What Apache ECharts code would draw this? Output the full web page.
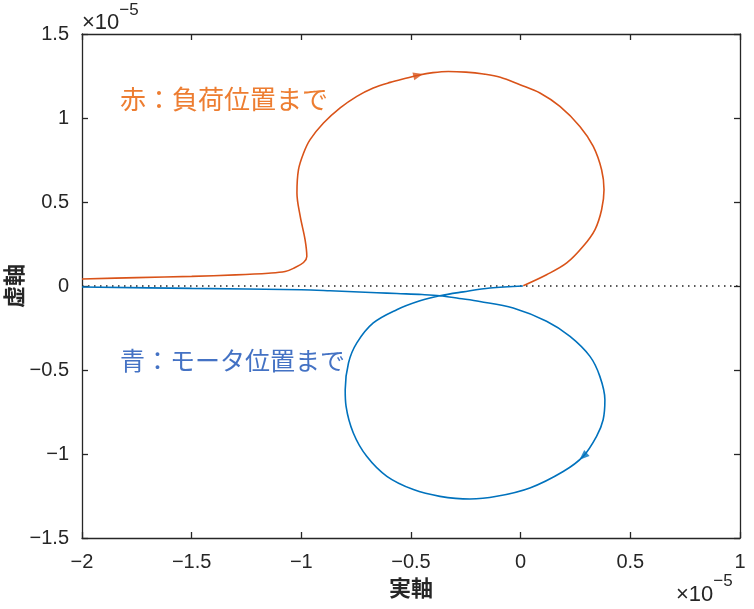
<!DOCTYPE html>
<html>
<head>
<meta charset="utf-8">
<title>ナイキスト線図</title>
<script src="https://cdn.jsdelivr.net/npm/echarts@6/dist/echarts.min.js"></script>
<style>
  html, body { margin: 0; padding: 0; background: #fff; }
  #main { width: 754px; height: 609px; }
</style>
</head>
<body>
<div id="main"></div>
<script>
// values are in units of 1e-5 (the axes show ×10^-5)
var xTicks = [-2, -1.5, -1, -0.5, 0, 0.5, 1];
var yTicks = [-1.5, -1, -0.5, 0, 0.5, 1, 1.5];

// 負荷位置まで (red)
var loadCurve = [
  [-2.0, 0.042], [-1.75, 0.05], [-1.5, 0.057], [-1.3, 0.066], [-1.15, 0.076],
  [-1.074, 0.086], [-1.036, 0.105], [-0.99, 0.14], [-0.975, 0.176], [-0.983, 0.276],
  [-1.005, 0.414], [-1.02, 0.553], [-1.013, 0.692], [-0.99, 0.79], [-0.96, 0.871],
  [-0.899, 0.97], [-0.823, 1.06], [-0.747, 1.129], [-0.672, 1.179], [-0.595, 1.212],
  [-0.519, 1.238], [-0.467, 1.255], [-0.4, 1.27], [-0.33, 1.277], [-0.25, 1.273],
  [-0.17, 1.262], [-0.093, 1.243], [-0.003, 1.198], [0.088, 1.149], [0.179, 1.069],
  [0.27, 0.95], [0.331, 0.831], [0.369, 0.692], [0.38, 0.573], [0.369, 0.454],
  [0.339, 0.336], [0.285, 0.236], [0.21, 0.137], [0.118, 0.067], [0.012, 0.002]
];

// モータ位置まで (blue)
var motorCurve = [
  [-2.0, -0.006], [-1.5, -0.014], [-1.0, -0.022], [-0.869, -0.028], [-0.656, -0.04],
  [-0.565, -0.045], [-0.45, -0.051], [-0.368, -0.058], [-0.28, -0.074], [-0.186, -0.092],
  [-0.034, -0.131], [0.118, -0.21], [0.225, -0.3], [0.316, -0.419], [0.361, -0.538],
  [0.384, -0.677], [0.376, -0.796], [0.346, -0.895], [0.285, -1.014], [0.194, -1.104],
  [0.042, -1.202], [-0.109, -1.252], [-0.231, -1.268], [-0.368, -1.252], [-0.489, -1.212],
  [-0.61, -1.133], [-0.702, -1.014], [-0.763, -0.875], [-0.796, -0.717], [-0.80, -0.617],
  [-0.785, -0.458], [-0.747, -0.339], [-0.672, -0.22], [-0.565, -0.141], [-0.459, -0.088],
  [-0.368, -0.058], [-0.262, -0.035], [-0.14, -0.012], [0.01, 0.0]
];

// direction arrows: [x, y, rotate(deg)]
var loadArrow = [-0.467, 1.255, -77];
var motorArrow = [0.285, -1.014, 132];

var zeroLine = [[-2, 0], [1, 0]];

var red = '#D95319';
var blue = '#0072BD';
var axisColor = '#262626';

function fmt(v) {
    return String(v).replace('-', '\u2212');  // MATLAB風のマイナス記号
}

function axisX(pos, showLabel) {
    return {
        type: 'value', position: pos,
        min: xTicks[0], max: xTicks[xTicks.length - 1], interval: 0.5,
        axisLine: { show: true, onZero: false, lineStyle: { color: axisColor, width: 1.3 } },
        axisTick: { show: true, inside: true, length: 6, lineStyle: { color: axisColor, width: 1.3 } },
        axisLabel: { show: showLabel, formatter: fmt, color: axisColor, fontSize: 20,
                     fontFamily: 'Liberation Sans', margin: 14 },
        splitLine: { show: false }
    };
}
function axisY(pos, showLabel) {
    return {
        type: 'value', position: pos,
        min: yTicks[0], max: yTicks[yTicks.length - 1], interval: 0.5,
        axisLine: { show: true, onZero: false, lineStyle: { color: axisColor, width: 1.3 } },
        axisTick: { show: true, inside: true, length: 6, lineStyle: { color: axisColor, width: 1.3 } },
        axisLabel: { show: showLabel, formatter: fmt, color: axisColor, fontSize: 20,
                     fontFamily: 'Liberation Sans', margin: 13 },
        splitLine: { show: false }
    };
}

var xMain = axisX('bottom', true);
xMain.name = '実軸';
xMain.nameLocation = 'middle';
xMain.nameGap = 37;
xMain.nameTextStyle = { color: axisColor, fontSize: 22, fontWeight: 'bold', fontFamily: 'Noto Sans CJK JP' };

var yMain = axisY('left', true);
yMain.name = '虚軸';
yMain.nameLocation = 'middle';
yMain.nameGap = 57;
yMain.nameRotate = 90;
yMain.nameMoveOverlap = false;
yMain.nameTextStyle = { color: axisColor, fontSize: 22, fontWeight: 'bold', fontFamily: 'Noto Sans CJK JP' };

var myChart = echarts.init(document.getElementById('main'));

myChart.setOption({
    animation: false,
    backgroundColor: '#fff',
    grid: { left: 82, top: 34, right: 14, bottom: 71, containLabel: false, outerBoundsMode: 'none' },
    xAxis: [xMain, axisX('top', false)],
    yAxis: [yMain, axisY('right', false)],
    graphic: [
        {   // 赤の注釈
            type: 'text', left: 120, top: 86,
            style: { text: '赤：負荷位置まで', fill: '#ED7D31', font: '26px "Noto Sans CJK JP"' }
        },
        {   // 青の注釈
            type: 'text', left: 120, top: 348,
            style: { text: '青：モータ位置まで', fill: '#4472C4', font: '25px "Noto Sans CJK JP"' }
        },
        {   // 上の ×10^-5
            type: 'text', left: 82, top: 2,
            style: {
                text: '{a|×10}{b|\u22125}',
                rich: {
                    a: { fontSize: 22, fontFamily: 'Liberation Sans', fill: axisColor, padding: [10, 0, 0, 0] },
                    b: { fontSize: 17, fontFamily: 'Liberation Sans', fill: axisColor, verticalAlign: 'top' }
                }
            }
        },
        {   // 右下の ×10^-5
            type: 'text', left: 676, top: 573,
            style: {
                text: '{a|×10}{b|\u22125}',
                rich: {
                    a: { fontSize: 22, fontFamily: 'Liberation Sans', fill: axisColor, padding: [11, 0, 0, 0] },
                    b: { fontSize: 17, fontFamily: 'Liberation Sans', fill: axisColor, verticalAlign: 'top' }
                }
            }
        }
    ],
    series: [
        {
            name: 'zero', type: 'line', data: zeroLine, showSymbol: false, silent: true,
            lineStyle: { color: '#222', width: 1.5, type: [1.5, 4.5] }, z: 1
        },
        {
            name: '負荷位置まで', type: 'line', data: loadCurve, showSymbol: false, smooth: 0.35,
            lineStyle: { color: red, width: 1.6 }, z: 2
        },
        {
            name: 'モータ位置まで', type: 'line', data: motorCurve, showSymbol: false, smooth: 0.35,
            lineStyle: { color: blue, width: 1.6 }, z: 2
        },
        {
            name: 'arrows', type: 'scatter', symbol: 'triangle', symbolSize: [8, 10], z: 3,
            data: [
                { value: [loadArrow[0], loadArrow[1]], symbolRotate: loadArrow[2], itemStyle: { color: red } },
                { value: [motorArrow[0], motorArrow[1]], symbolRotate: motorArrow[2], itemStyle: { color: blue } }
            ]
        }
    ]
});
</script>
</body>
</html>
